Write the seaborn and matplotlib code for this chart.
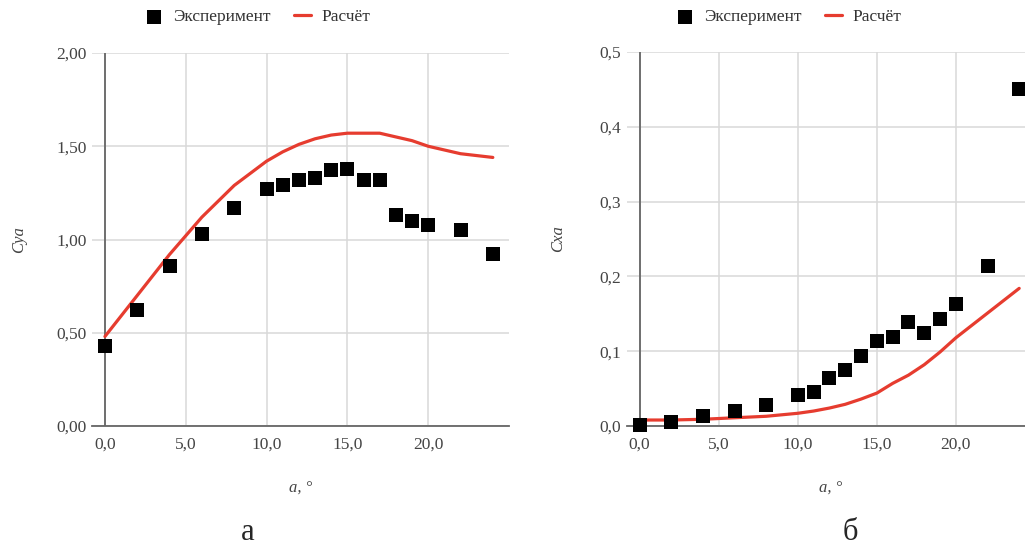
import matplotlib
matplotlib.use("Agg")
import matplotlib.pyplot as plt
import seaborn as sns
import pandas as pd

# Angle of attack, degrees
alpha_exp = [0, 2, 4, 6, 8, 10, 11, 12, 13, 14, 15, 16, 17, 18, 19, 20, 22, 24]
alpha_calc = [0, 2, 4, 6, 8, 10, 11, 12, 13, 14, 15, 16, 17, 18, 19, 20, 22, 24]

# Lift coefficient Cya
cya_exp = [0.43, 0.62, 0.86, 1.03, 1.17, 1.27, 1.29, 1.32, 1.33, 1.37, 1.38,
           1.32, 1.32, 1.13, 1.10, 1.08, 1.05, 0.92]
cya_calc = [0.48, 0.70, 0.92, 1.12, 1.29, 1.42, 1.47, 1.51, 1.54, 1.56, 1.57,
            1.57, 1.57, 1.55, 1.53, 1.50, 1.46, 1.44]

# Drag coefficient Cxa
cxa_exp = [0.002, 0.006, 0.013, 0.020, 0.028, 0.042, 0.046, 0.064, 0.075, 0.094,
           0.114, 0.119, 0.139, 0.125, 0.143, 0.163, 0.214, 0.450]
cxa_calc = [0.008, 0.008, 0.009, 0.011, 0.013, 0.017, 0.020, 0.024, 0.029, 0.036,
            0.044, 0.057, 0.068, 0.082, 0.099, 0.118, 0.151, 0.184]

x_ticks = [0, 5, 10, 15, 20]
x_tick_labels = ["0,0", "5,0", "10,0", "15,0", "20,0"]
cya_ticks = [0, 0.5, 1.0, 1.5, 2.0]
cya_tick_labels = ["0,00", "0,50", "1,00", "1,50", "2,00"]
cxa_ticks = [0, 0.1, 0.2, 0.3, 0.4, 0.5]
cxa_tick_labels = ["0,0", "0,1", "0,2", "0,3", "0,4", "0,5"]

sns.set_theme(style="white")
plt.rcParams["font.family"] = ["Liberation Serif", "DejaVu Serif"]

RED = "#e63c2f"
GRID = "#d9d9d9"
AXIS = "#666666"
TICK = "#444444"

fig = plt.figure(figsize=(10.25, 5.48), dpi=100)
ax_a = fig.add_axes([92 / 1025, 122 / 548, 417 / 1025, 373 / 548])
ax_b = fig.add_axes([627 / 1025, 122 / 548, 408 / 1025, 374 / 548])


def draw_panel(ax, x_e, y_e, x_c, y_c, yticks, ylabels, ylim, ylabel):
    df_e = pd.DataFrame({"alpha": x_e, "value": y_e})
    df_c = pd.DataFrame({"alpha": x_c, "value": y_c})
    sns.lineplot(data=df_c, x="alpha", y="value", ax=ax, color=RED,
                 linewidth=2.3, label="Расчёт", zorder=3)
    sns.scatterplot(data=df_e, x="alpha", y="value", ax=ax, marker="s",
                    s=95, color="black", edgecolor="black", linewidth=0,
                    label="Эксперимент", zorder=4, clip_on=False)
    ax.set_xlim(-0.8, 25)
    ax.set_ylim(*ylim)
    ax.set_xticks(x_ticks)
    ax.set_xticklabels(x_tick_labels)
    ax.set_yticks(yticks)
    ax.set_yticklabels(ylabels)
    ax.grid(True, color=GRID, linewidth=1.1)
    ax.set_axisbelow(True)
    for side in ["top", "right", "left"]:
        ax.spines[side].set_visible(False)
    ax.spines["bottom"].set_color(AXIS)
    ax.spines["bottom"].set_linewidth(1.3)
    ax.axvline(0, color=AXIS, linewidth=1.3, zorder=2)
    ax.tick_params(axis="both", length=0, labelsize=12.5, labelcolor=TICK)
    ax.tick_params(axis="x", pad=8)
    ax.tick_params(axis="y", pad=4)
    ax.set_xlabel("a, °", fontsize=12, style="italic", color=TICK, labelpad=20)
    ax.set_ylabel(ylabel, fontsize=12, style="italic", color=TICK)
    ax.get_legend().remove()


draw_panel(ax_a, alpha_exp, cya_exp, alpha_calc, cya_calc,
           cya_ticks, cya_tick_labels, (0, 2.0), "Cya")
ax_a.yaxis.set_label_coords(-0.155, 0.5)
draw_panel(ax_b, alpha_exp, cxa_exp, alpha_calc, cxa_calc,
           cxa_ticks, cxa_tick_labels, (0, 0.5), "Cxa")
ax_b.yaxis.set_label_coords(-0.15, 0.5)

# legends above each panel
for ax, cx in [(ax_a, 258 / 1025), (ax_b, 789 / 1025)]:
    handles, labels = ax.get_legend_handles_labels()
    order = [labels.index("Эксперимент"), labels.index("Расчёт")]
    ax.legend([handles[i] for i in order], [labels[i] for i in order],
              loc="center", bbox_to_anchor=(cx, 1 - 17 / 548),
              bbox_transform=fig.transFigure, ncol=2, frameon=False,
              fontsize=12.5, labelcolor="#333333", handlelength=1.0,
              columnspacing=1.3, handletextpad=0.6, markerscale=1.0)

fig.text(248 / 1025, 8 / 548, "а", fontsize=22, ha="center", va="baseline")
fig.text(850 / 1025, 8 / 548, "б", fontsize=22, ha="center", va="baseline")

fig.savefig("out.png", dpi=100)
